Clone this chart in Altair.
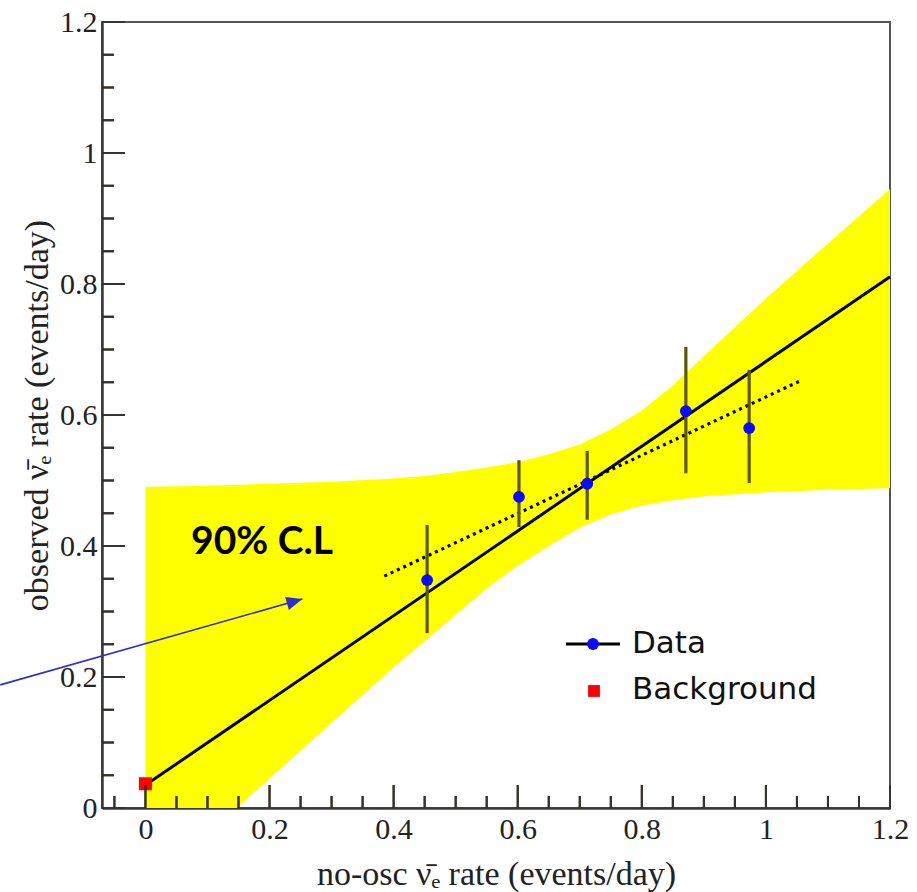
import math
import altair as alt
import pandas as pd

# ---------------- data ----------------
DATA_X = [0.454, 0.602, 0.712, 0.871, 0.973]
DATA_Y = [0.348, 0.475, 0.495, 0.606, 0.580]
DATA_LO = [0.267, 0.429, 0.440, 0.511, 0.496]
DATA_HI = [0.432, 0.531, 0.545, 0.704, 0.669]

BKG_X = [0.0]
BKG_Y = [0.037]

FIT_X = [0.0, 1.2]
FIT_Y = [0.035, 0.811]

DOT_X = [0.385, 1.055]
DOT_Y = [0.354, 0.652]

BAND_X = [0.0, 0.1, 0.2, 0.3, 0.4, 0.45, 0.5, 0.55, 0.6, 0.65, 0.7, 0.75,
          0.8, 0.85, 0.9, 1.0, 1.1, 1.2]
BAND_LO = [-0.13, -0.04, 0.045, 0.13, 0.215, 0.255, 0.295, 0.335, 0.37, 0.40,
           0.428, 0.448, 0.462, 0.47, 0.476, 0.482, 0.486, 0.488]
BAND_HI = [0.49, 0.492, 0.495, 0.498, 0.503, 0.507, 0.513, 0.52, 0.528, 0.54,
           0.555, 0.578, 0.607, 0.645, 0.69, 0.778, 0.862, 0.945]

ARROW_X = [-0.234]
ARROW_Y = [0.188]
ARROW_X2 = [0.253]
ARROW_Y2 = [0.319]

NOTE_X = [0.188]
NOTE_Y = [0.406]
NOTE_TEXT = ["90% C.L"]

LEGEND_LABELS = ["Data", "Background"]

X_TICKS = [0, 0.2, 0.4, 0.6, 0.8, 1.0, 1.2]
Y_TICKS = [0, 0.2, 0.4, 0.6, 0.8, 1.0, 1.2]
X_MINOR = [-0.05, 0.05, 0.1, 0.15, 0.25, 0.3, 0.35, 0.45, 0.5, 0.55, 0.65, 0.7,
           0.75, 0.85, 0.9, 0.95, 1.05, 1.1, 1.15]
Y_MINOR = [0.05, 0.1, 0.15, 0.25, 0.3, 0.35, 0.45, 0.5, 0.55, 0.65, 0.7,
           0.75, 0.85, 0.9, 0.95, 1.05, 1.1, 1.15]

X_DOMAIN = [-0.07, 1.2]
Y_DOMAIN = [0.0, 1.2]

# ---------------- layout / style ----------------
W, H = 788, 786
SERIF = "Liberation Serif"
AXIS_COLOR = "#3a3a3a"
RULE_TICK_COLOR = "#2e1c04"
MARK_TICK_COLOR = "#333333"
MAJOR_LEN, MINOR_LEN = 23, 12
px_x = W / (X_DOMAIN[1] - X_DOMAIN[0])
px_y = H / (Y_DOMAIN[1] - Y_DOMAIN[0])

xscale = alt.Scale(domain=X_DOMAIN, nice=False, zero=False)
yscale = alt.Scale(domain=Y_DOMAIN, nice=False, zero=False)

label_expr = "toString(round(datum.value * 10) / 10)"

xaxis = alt.Axis(
    values=X_TICKS, ticks=False, grid=False, labelExpr=label_expr,
    labelFont=SERIF, labelFontSize=30, labelColor="#222", labelPadding=6,
    labelFlush=False, labelOverlap=False,
    title="no-osc  \u03bd\u0304\u2091 rate (events/day)",
    titleFont=SERIF, titleFontSize=34, titleFontWeight="normal",
    titleColor="#222", titlePadding=13,
    domainColor=AXIS_COLOR, domainWidth=2.5,
)
yaxis = alt.Axis(
    values=Y_TICKS, ticks=False, grid=False, labelExpr=label_expr,
    labelFont=SERIF, labelFontSize=30, labelColor="#222", labelPadding=5,
    labelFlush=False, labelOverlap=False,
    title="observed  \u03bd\u0304\u2091 rate (events/day)",
    titleFont=SERIF, titleFontSize=34, titleFontWeight="normal",
    titleColor="#222", titlePadding=5,
    domainColor=AXIS_COLOR, domainWidth=2.5,
)


def X(field):
    return alt.X(f"{field}:Q", scale=xscale, axis=xaxis)


def Y(field):
    return alt.Y(f"{field}:Q", scale=yscale, axis=yaxis)


band_df = pd.DataFrame({"x": BAND_X, "lo": BAND_LO, "hi": BAND_HI})
data_df = pd.DataFrame({"x": DATA_X, "y": DATA_Y, "lo": DATA_LO, "hi": DATA_HI})
bkg_df = pd.DataFrame({"x": BKG_X, "y": BKG_Y})
fit_df = pd.DataFrame({"x": FIT_X, "y": FIT_Y})
dot_df = pd.DataFrame({"x": DOT_X, "y": DOT_Y})
arrow_df = pd.DataFrame({"x": ARROW_X, "y": ARROW_Y, "x2": ARROW_X2, "y2": ARROW_Y2})
note_df = pd.DataFrame({"x": NOTE_X, "y": NOTE_Y, "txt": NOTE_TEXT})

band = alt.Chart(band_df).mark_area(color="#ffff00", clip=True).encode(
    x=X("x"), y=Y("lo"), y2="hi:Q"
)


# inward ticks: rules at tick values (length converted to data units)
def xticks(vals, length):
    df = pd.DataFrame({"x": vals, "tb": [Y_DOMAIN[0]] * len(vals),
                       "tt": [Y_DOMAIN[0] + length / px_y] * len(vals)})
    return alt.Chart(df).mark_rule(color=RULE_TICK_COLOR, strokeWidth=2).encode(
        x=alt.X("x:Q", scale=xscale), y=alt.Y("tb:Q", scale=yscale), y2="tt:Q")


def yticks(vals, length):
    df = pd.DataFrame({"y": vals, "tl": [X_DOMAIN[0]] * len(vals),
                       "tr": [X_DOMAIN[0] + length / px_x] * len(vals)})
    return alt.Chart(df).mark_rule(color=RULE_TICK_COLOR, strokeWidth=2).encode(
        y=alt.Y("y:Q", scale=yscale), x=alt.X("tl:Q", scale=xscale), x2="tr:Q")


# the same ticks also as tick marks on top
def xtickmarks(vals, length):
    df = pd.DataFrame({"xv": vals})
    return alt.Chart(df).mark_tick(
        color=MARK_TICK_COLOR, thickness=2, size=length, orient="vertical",
        opacity=1).encode(
        x=alt.X("xv:Q", scale=xscale), y=alt.value(H - length / 2))


def ytickmarks(vals, length):
    df = pd.DataFrame({"yv": vals})
    return alt.Chart(df).mark_tick(
        color=MARK_TICK_COLOR, thickness=2, size=length, orient="horizontal",
        opacity=1).encode(
        y=alt.Y("yv:Q", scale=yscale), x=alt.value(length / 2))


tick_layers = [
    xticks(X_MINOR, MINOR_LEN), xticks(X_TICKS, MAJOR_LEN),
    yticks(Y_MINOR, MINOR_LEN), yticks(Y_TICKS, MAJOR_LEN),
    xtickmarks(X_MINOR, MINOR_LEN), xtickmarks(X_TICKS, MAJOR_LEN),
    ytickmarks(Y_MINOR, MINOR_LEN), ytickmarks(Y_TICKS, MAJOR_LEN),
]

dotted = alt.Chart(dot_df).mark_line(
    color="black", strokeWidth=3.2, strokeDash=[3, 4]).encode(x=X("x"), y=Y("y"))
fit = alt.Chart(fit_df).mark_line(color="black", strokeWidth=3).encode(
    x=X("x"), y=Y("y"))

errbars = alt.Chart(data_df).mark_rule(color="#5c5700", strokeWidth=3.2).encode(
    x=X("x"), y=Y("lo"), y2="hi:Q")
points = alt.Chart(data_df).mark_circle(color="#0a0aff", size=140, opacity=1).encode(
    x=X("x"), y=Y("y"))
bkg = alt.Chart(bkg_df).mark_square(color="#ff0000", size=170, opacity=1).encode(
    x=X("x"), y=Y("y"))

note = alt.Chart(note_df).mark_text(
    font="Lato", fontWeight="bold", fontSize=39, color="black",
    align="center", baseline="middle").encode(x=X("x"), y=Y("y"), text="txt:N")

ang = math.degrees(math.atan2(-(ARROW_Y2[0] - ARROW_Y[0]) * px_y,
                              (ARROW_X2[0] - ARROW_X[0]) * px_x)) % 360

arrow_line = alt.Chart(arrow_df).mark_rule(
    color="#2d2dd2", strokeWidth=1.6, clip=False).encode(
    x=X("x"), y=Y("y"), x2="x2:Q", y2="y2:Q")
arrow_head = alt.Chart(arrow_df).mark_point(
    shape="M0,0 L-2,-0.85 L-2,0.85 Z", filled=True, color="#2d2dd2",
    size=256, opacity=1, angle=ang, clip=False).encode(
    x=X("x2"), y=Y("y2"))

leg_df = pd.DataFrame({"label": LEGEND_LABELS})
leg_line = alt.Chart(leg_df.head(1)).mark_rule(color="black", strokeWidth=3).encode(
    x=alt.value(464), x2=alt.value(518), y=alt.value(622))
leg_dot = alt.Chart(leg_df.head(1)).mark_circle(
    color="#0a0aff", size=140, opacity=1).encode(x=alt.value(491), y=alt.value(622))
leg_sq = alt.Chart(leg_df.tail(1)).mark_square(
    color="#ff0000", size=140, opacity=1).encode(x=alt.value(492), y=alt.value(669))
leg_t1 = alt.Chart(leg_df.head(1)).mark_text(
    font="DejaVu Sans", fontSize=31, color="#111", align="left",
    baseline="middle").encode(x=alt.value(530), y=alt.value(622), text="label:N")
leg_t2 = alt.Chart(leg_df.tail(1)).mark_text(
    font="DejaVu Sans", fontSize=31, color="#111", align="left",
    baseline="middle").encode(x=alt.value(530), y=alt.value(668), text="label:N")

chart = alt.layer(
    band, dotted, fit, errbars, points, bkg, note,
    arrow_line, arrow_head, leg_line, leg_dot, leg_sq, leg_t1, leg_t2,
    *tick_layers,
).properties(
    width=W, height=H,
    padding={"left": 102, "top": 22, "right": 27, "bottom": 84},
    autosize=alt.AutoSizeParams(type="none"),
    background="white",
).configure_view(stroke="#555555", strokeWidth=2)

chart.save("out.html", embed_options={"renderer": "svg", "actions": False})
